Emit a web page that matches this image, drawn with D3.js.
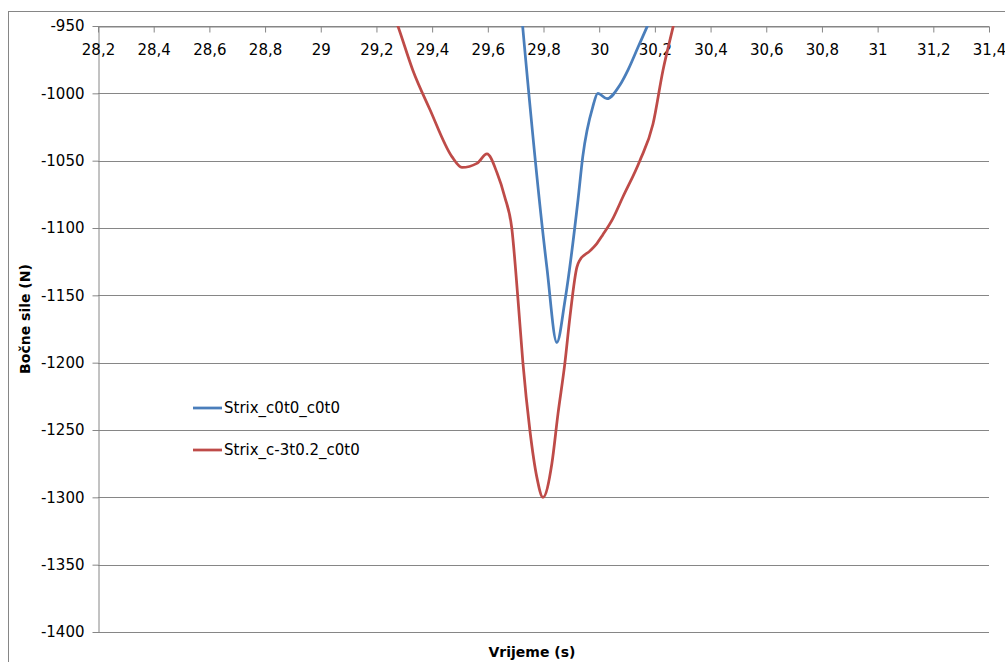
<!DOCTYPE html>
<html>
<head>
<meta charset="utf-8">
<script src="https://cdn.jsdelivr.net/npm/d3@7"></script>
<style>
  body { margin: 0; background: white; }
  svg { font-family: "DejaVu Sans", sans-serif; }
</style>
</head>
<body>
<svg id="chart" width="1005" height="662"></svg>
<script>
// values
const seriesNames = ["Strix_c0t0_c0t0", "Strix_c-3t0.2_c0t0"];
const seriesColors = ["#4a7ebb", "#be4b48"];

const blueTime = [29.71, 29.725, 29.812, 29.848, 29.877, 29.924, 29.941, 29.977, 29.995,
  30.028, 30.074, 30.105, 30.139, 30.171, 30.2];
const blueForce = [-915, -950, -1129, -1185, -1154, -1079, -1047, -1010, -1000,
  -1004, -994, -982, -966, -951, -937];

const redTime = [29.22, 29.277, 29.331, 29.392, 29.471, 29.507, 29.561, 29.597, 29.633,
  29.661, 29.686, 29.708, 29.726, 29.751, 29.776, 29.798, 29.83, 29.852, 29.877, 29.895,
  29.92, 29.93, 29.967, 29.99, 30.013, 30.049, 30.085, 30.146, 30.193, 30.229, 30.265, 30.3];
const redForce = [-919, -950, -983, -1012, -1047, -1055, -1052, -1045, -1059,
  -1077, -1100, -1152, -1200, -1250, -1285, -1300, -1275, -1238, -1200, -1166,
  -1129, -1124, -1117, -1112, -1105, -1093, -1077, -1050, -1023, -983, -951, -920];

const xTicks = d3.range(0, 17).map(i => +(28.2 + i * 0.2).toFixed(1));
const yTicks = d3.range(0, 10).map(i => -950 - i * 50);

const svg = d3.select("#chart");
const plot = { left: 98, right: 989, top: 26, bottom: 632 };

const x = d3.scaleLinear().domain([28.2, 31.4]).range([plot.left, plot.right]);
const y = d3.scaleLinear().domain([-1400, -950]).range([plot.bottom, plot.top]);
const grid = "#868686";

// outer chart border
svg.append("rect")
  .attr("x", 8.5).attr("y", 11.5)
  .attr("width", 1010).attr("height", 700)
  .attr("fill", "white").attr("stroke", grid);

// horizontal gridlines
svg.append("g").selectAll("line")
  .data(yTicks)
  .enter()
  .append("line")
  .attr("x1", plot.left).attr("x2", plot.right)
  .attr("y1", d => Math.round(y(d)) + 0.5)
  .attr("y2", d => Math.round(y(d)) + 0.5)
  .attr("stroke", grid);

// y axis
const yAxis = svg.append("g")
  .attr("transform", "translate(" + (plot.left + 0.5) + ",0)")
  .call(d3.axisLeft(y).tickValues(yTicks).tickSize(6).tickSizeOuter(0).tickPadding(8)
    .tickFormat(d => String(d)));

// x axis at the top (values are negative, so it crosses at -950)
const xAxis = svg.append("g")
  .attr("transform", "translate(0," + (Math.round(y(-950)) + 0.5) + ")")
  .call(d3.axisBottom(x).tickValues(xTicks).tickSize(6).tickSizeOuter(0).tickPadding(12)
    .tickFormat(d => String(d).replace(".", ",")));

[xAxis, yAxis].forEach(function(a) {
  a.select(".domain").attr("stroke", grid);
  a.selectAll(".tick line").attr("stroke", grid);
  a.selectAll(".tick text")
    .attr("fill", "#000")
    .style("font-size", "15px")
    .style("font-family", "DejaVu Sans, sans-serif");
});

// clip the lines to the plot area
svg.append("clipPath").attr("id", "plotclip")
  .append("rect")
  .attr("x", plot.left).attr("y", plot.top)
  .attr("width", plot.right - plot.left).attr("height", plot.bottom - plot.top);

const line = d3.line()
  .x(d => x(d[0]))
  .y(d => y(d[1]))
  .curve(d3.curveMonotoneX);

const series = [
  d3.zip(blueTime, blueForce),
  d3.zip(redTime, redForce)
];

svg.append("g").attr("clip-path", "url(#plotclip)")
  .selectAll("path")
  .data(series)
  .enter()
  .append("path")
  .attr("d", line)
  .attr("fill", "none")
  .attr("stroke", (d, i) => seriesColors[i])
  .attr("stroke-width", 2.75)
  .attr("stroke-linejoin", "round");

// legend
const legend = svg.append("g").attr("transform", "translate(193,408)");
const item = legend.selectAll("g")
  .data(seriesNames)
  .enter()
  .append("g")
  .attr("transform", (d, i) => "translate(0," + i * 42 + ")");

item.append("line")
  .attr("x1", 0).attr("x2", 29)
  .attr("stroke", (d, i) => seriesColors[i])
  .attr("stroke-width", 2.75);

item.append("text")
  .attr("x", 31).attr("dy", "0.35em")
  .style("font-size", "15px")
  .text(d => d);

// axis titles
svg.append("text")
  .attr("x", 532).attr("y", 657)
  .attr("text-anchor", "middle")
  .style("font-size", "14px").style("font-weight", "bold")
  .text("Vrijeme (s)");

svg.append("text")
  .attr("transform", "translate(30,319) rotate(-90)")
  .attr("text-anchor", "middle")
  .style("font-size", "14px").style("font-weight", "bold")
  .text("Bočne sile (N)");
</script>
</body>
</html>
